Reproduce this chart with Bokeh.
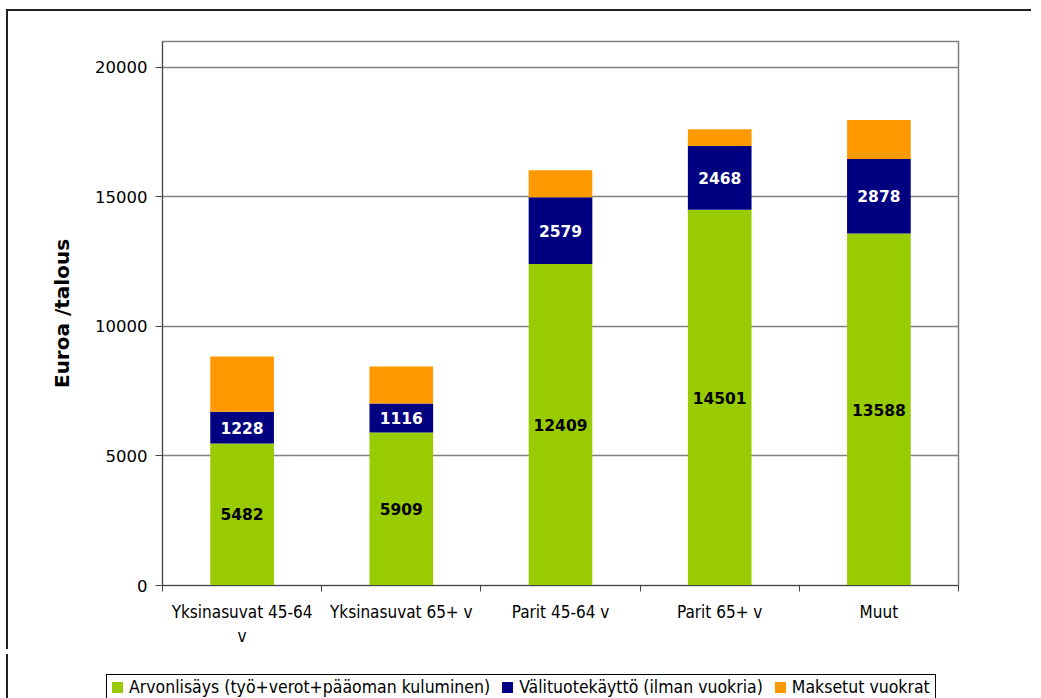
from bokeh.plotting import figure
from bokeh.layouts import column
from bokeh.models import (ColumnDataSource, Range1d, LinearAxis, FixedTicker, LabelSet, Div)
from bokeh.core.properties import value
from bokeh.embed import file_html
from bokeh.resources import INLINE

categories = ["Yksinasuvat 45-64 v", "Yksinasuvat 65+ v", "Parit 45-64 v", "Parit 65+ v", "Muut"]
arvonlisays = [5482, 5909, 12409, 14501, 13588]
valituote = [1228, 1116, 2579, 2468, 2878]
vuokrat = [2130, 1430, 1040, 640, 1500]
series_names = ["Arvonlisäys (työ+verot+pääoman kuluminen)", "Välituotekäyttö (ilman vuokria)", "Maksetut vuokrat"]
colors = ["#99CC00", "#000080", "#FF9900"]
y_ticks = [0, 5000, 10000, 15000, 20000]

FONT = "DejaVu Sans"
NARROW = "Liberation Sans Narrow, DejaVu Sans Condensed, sans-serif"

xpos = [i + 0.5 for i in range(len(categories))]
edges = list(range(len(categories) + 1))
src = ColumnDataSource(dict(
    x=xpos, a=arvonlisays, b=valituote, c=vuokrat,
    a_mid=[v / 2 for v in arvonlisays],
    b_mid=[a + b / 2 for a, b in zip(arvonlisays, valituote)],
    a_txt=[str(v) for v in arvonlisays],
    b_txt=[str(v) for v in valituote],
))

p = figure(width=1025, height=640, x_range=Range1d(0, len(categories)), y_range=Range1d(0, 21000),
           output_backend="svg", toolbar_location=None, x_axis_location=None,
           min_border_left=154, min_border_top=30, min_border_right=75, min_border_bottom=66)
p.styles = {"border-left": "2px solid #222", "border-top": "2px solid #222",
            "margin-left": "6px", "margin-top": "9px"}

rs = p.vbar_stack(["a", "b", "c"], x="x", width=0.4, source=src, color=colors, line_color=None)

# grid / frame
p.xgrid.grid_line_color = None
p.ygrid.ticker = FixedTicker(ticks=y_ticks)
p.ygrid.grid_line_color = "#808080"
p.ygrid.grid_line_width = 1.5
p.outline_line_color = "#808080"
p.outline_line_width = 1.5

# y axis
ya = p.yaxis[0]
ya.ticker = FixedTicker(ticks=y_ticks)
ya.axis_line_color = "#444444"
ya.major_tick_line_color = "#444444"
ya.major_tick_out = 7
ya.major_tick_in = 0
ya.minor_tick_line_color = None
ya.major_label_text_font = FONT
ya.major_label_text_font_size = "16.5px"
ya.major_label_text_color = "#000000"
ya.major_label_standoff = 8
ya.axis_label = "Euroa /talous"
ya.axis_label_text_font = FONT
ya.axis_label_text_font_style = "bold"
ya.axis_label_text_font_size = "20px"
ya.axis_label_text_color = "#000000"
ya.axis_label_standoff = 18

# x axis: labels at category centres, ticks at category boundaries
labels = dict(zip(xpos, categories))
labels[xpos[0]] = "Yksinasuvat 45-64\nv"
ca = LinearAxis(ticker=FixedTicker(ticks=xpos, minor_ticks=edges), major_label_overrides=labels)
ca.axis_line_color = "#444444"
ca.major_tick_line_color = None
ca.major_tick_out = 6
ca.minor_tick_line_color = "#444444"
ca.minor_tick_out = 6
ca.minor_tick_in = 0
ca.major_label_text_font = NARROW
ca.major_label_text_font_size = "17px"
ca.major_label_text_color = "#000000"
ca.major_label_standoff = 10
p.add_layout(ca, "below")

# value labels
p.add_layout(LabelSet(x="x", y="a_mid", text="a_txt", source=src, text_align="center",
                      text_baseline="middle", text_font=value(FONT), text_font_style="bold",
                      text_font_size="15.5px", text_color="#000000"))
p.add_layout(LabelSet(x="x", y="b_mid", text="b_txt", source=src, text_align="center",
                      text_baseline="middle", text_font=value(FONT), text_font_style="bold",
                      text_font_size="15.5px", text_color="#FFFFFF"))

# legend strip below the chart
items = []
for i, (name, col) in enumerate(zip(series_names, colors)):
    left = 0 if i == 0 else 12
    items.append(
        '<span style="display:inline-block;width:11px;height:11px;background:' + col +
        ';margin:0 6px 0 ' + str(left) + 'px;"></span><span>' + name + '</span>')
legend_html = (
    '<div style="padding:20px 0 0 98px;">'
    '<div style="box-sizing:border-box;display:inline-flex;align-items:center;height:26px;'
    'border:1px solid #000;padding:0 5px;background:#fff;color:#000;white-space:nowrap;'
    "font-family:'Liberation Sans Narrow','DejaVu Sans Condensed',sans-serif;font-size:17.5px;\">"
    + "".join(items) + '</div></div>')
lg = Div(text=legend_html, width=1025, height=46,
         styles={"margin-left": "6px", "border-left": "2px solid #222"})

page = column(p, lg, spacing=0)
open("out.html", "w").write(file_html(page, INLINE))
